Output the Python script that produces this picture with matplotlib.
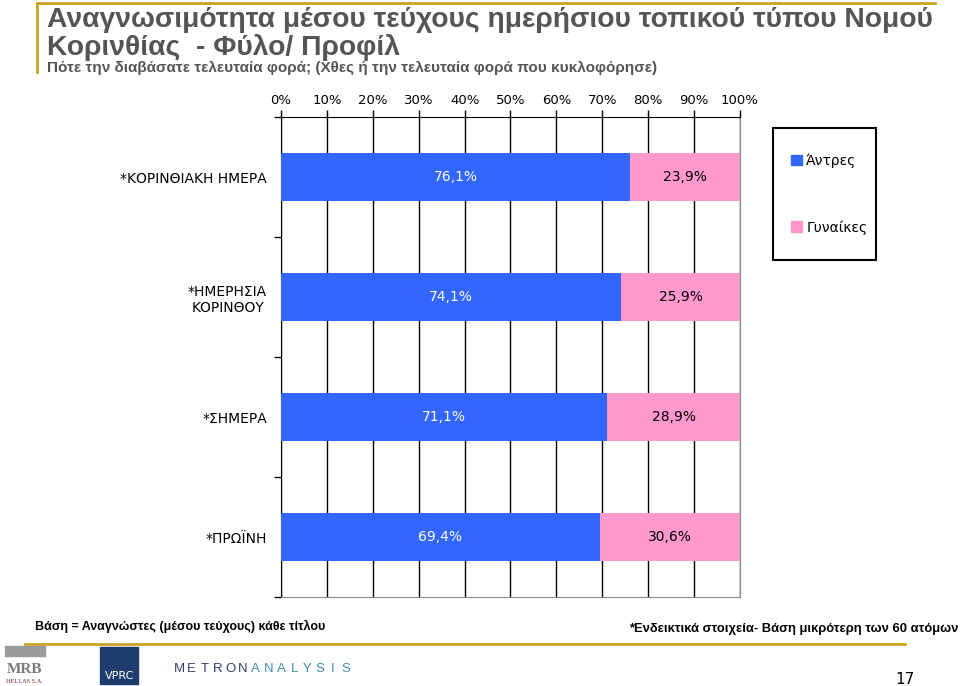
import numpy as np
import matplotlib.pyplot as plt
from matplotlib.patches import Patch, Rectangle
from matplotlib.lines import Line2D

# data
titles = ['*ΚΟΡΙΝΘΙΑΚΗ ΗΜΕΡΑ', '*ΗΜΕΡΗΣΙΑ\nΚΟΡΙΝΘΟΥ', '*ΣΗΜΕΡΑ', '*ΠΡΩΪΝΗ']
men = [76.1, 74.1, 71.1, 69.4]
women = [23.9, 25.9, 28.9, 30.6]
series_names = ['Άντρες', 'Γυναίκες']
xticks = [0, 10, 20, 30, 40, 50, 60, 70, 80, 90, 100]

blue = '#3366FF'
pink = '#FF99CC'
gold = '#C9A227'
grey_txt = '#555555'

plt.rcParams['font.family'] = ['DejaVu Sans']
title_font = ['Liberation Sans Narrow', 'Liberation Sans', 'DejaVu Sans']

fig = plt.figure(figsize=(9.6, 6.86), dpi=100)
ax = fig.add_axes([0.2927, 0.1297, 0.4781, 0.6997])

y = np.arange(len(titles))
ax.barh(y, men, height=0.4, color=blue, zorder=3)
ax.barh(y, women, left=men, height=0.4, color=pink, zorder=3)

for i in range(len(titles)):
    ax.text(men[i] / 2, y[i], f'{men[i]:.1f}%'.replace('.', ','),
            ha='center', va='center', color='white', fontsize=10, zorder=4)
    ax.text(men[i] + women[i] / 2, y[i], f'{women[i]:.1f}%'.replace('.', ','),
            ha='center', va='center', color='black', fontsize=10, zorder=4)

ax.set_xlim(0, 100)
ax.set_ylim(3.5, -0.5)
ax.set_xticks(xticks)
ax.set_xticklabels([f'{v}%' for v in xticks], fontsize=9.5)
ax.xaxis.tick_top()
ax.tick_params(axis='x', direction='out', length=5, width=1, pad=2)
ax.grid(axis='x', color='black', linewidth=1, zorder=1)

ax.set_yticks(y)
ax.set_yticklabels(titles, fontsize=10, multialignment='center')
ax.set_yticks([-0.5, 0.5, 1.5, 2.5, 3.5], minor=True)
ax.tick_params(axis='y', which='major', length=0, pad=10)
ax.tick_params(axis='y', which='minor', length=5, width=1)

ax.spines['top'].set_color('black')
ax.spines['left'].set_color('black')
ax.spines['right'].set_color('#888888')
ax.spines['bottom'].set_color('#888888')

# legend: entries without frame, frame drawn as a box
handles = [Patch(color=blue), Patch(color=pink)]
fig.legend(handles, series_names, loc='center left',
           bbox_to_anchor=(791 / 960, 1 - 194 / 686),
           frameon=False, fontsize=10, handlelength=0.8, handleheight=0.8,
           handletextpad=0.3, borderpad=0, labelspacing=3.75,
           borderaxespad=0)
fig.add_artist(Rectangle((773 / 960, 1 - 260 / 686), 103 / 960, 132 / 686,
                         fill=False, edgecolor='black', lw=1.5,
                         transform=fig.transFigure))

# header
fig.add_artist(Line2D([37 / 960, 935 / 960], [1 - 3 / 686, 1 - 3 / 686],
                      color=gold, lw=2, transform=fig.transFigure))
fig.add_artist(Line2D([37 / 960, 37 / 960], [1 - 3 / 686, 1 - 72 / 686],
                      color=gold, lw=2, transform=fig.transFigure))
fig.text(47 / 960, 1 - 27 / 686, 'Αναγνωσιμότητα μέσου τεύχους ημερήσιου τοπικού τύπου Νομού',
         fontsize=20.3, fontweight='bold', color=grey_txt, family=title_font, va='baseline')
fig.text(47 / 960, 1 - 55 / 686, 'Κορινθίας  - Φύλο/ Προφίλ',
         fontsize=20.3, fontweight='bold', color=grey_txt, family=title_font, va='baseline')
fig.text(47 / 960, 1 - 72 / 686, 'Πότε την διαβάσατε τελευταία φορά; (Χθες ή την τελευταία φορά που κυκλοφόρησε)',
         fontsize=11, fontweight='bold', color=grey_txt, family=title_font, va='baseline')

# footer
fig.text(35 / 960, 1 - 630 / 686, 'Βάση = Αναγνώστες (μέσου τεύχους) κάθε τίτλου',
         fontsize=9, fontweight='bold', color='black', family=title_font, va='baseline')
fig.text(958 / 960, 1 - 632 / 686, '*Ενδεικτικά στοιχεία- Βάση μικρότερη των 60 ατόμων',
         fontsize=9.35, fontweight='bold', color='black', family=title_font, va='baseline', ha='right')
fig.add_artist(Line2D([25 / 960, 905 / 960], [1 - 644 / 686, 1 - 644 / 686],
                      color=gold, lw=2, transform=fig.transFigure))

# logos (approximated)
fig.add_artist(Rectangle((5 / 960, 1 - 656 / 686), 40 / 960, 10 / 686,
                         color='#9a9a9a', transform=fig.transFigure))
fig.text(25 / 960, 1 - 673 / 686, 'MRB', fontsize=11, fontweight='bold', color='#7a7a7a',
         family='Liberation Serif', ha='center', va='baseline')
fig.text(25 / 960, 1 - 683 / 686, 'HELLAS S.A.', fontsize=4.5, color='#7a2020',
         family='Liberation Serif', ha='center', va='baseline')
fig.add_artist(Rectangle((100 / 960, 1 - 684 / 686), 38 / 960, 37 / 686,
                         color='#1F3C6E', transform=fig.transFigure))
fig.text(120 / 960, 1 - 679 / 686, 'VPRC', fontsize=8, color='white',
         family='Liberation Sans Narrow', ha='center', va='baseline')
logo = 'METRONANALYSIS'
for i, ch in enumerate(logo):
    fig.text((179 + i * 12.8) / 960, 1 - 672 / 686, ch, fontsize=9.5,
             color='#2E3F6E' if i < 6 else '#3E8FA8',
             ha='center', va='baseline', family='Liberation Sans')
fig.text(905 / 960, 1 - 684 / 686, '17', fontsize=11, color='black', ha='center',
         va='baseline', family='Liberation Sans Narrow')

fig.savefig('out.png', dpi=100)
